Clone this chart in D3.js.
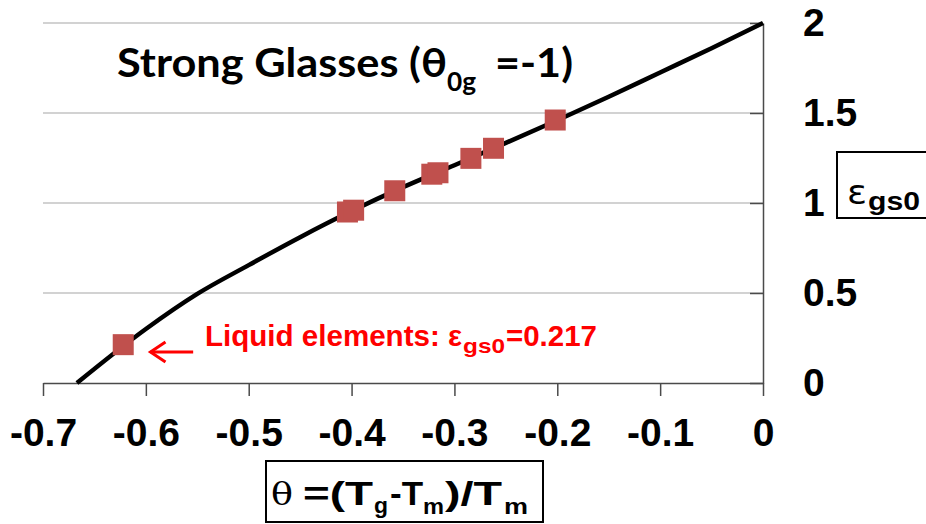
<!DOCTYPE html>
<html>
<head>
<meta charset="utf-8">
<script src="https://cdn.jsdelivr.net/npm/d3@7"></script>
<style>
  html, body { margin: 0; padding: 0; background: #fff; }
  svg { display: block; }
</style>
</head>
<body>
<div id="chart"></div>
<script>
// curve: theta vs eps_gs0
const curveTheta = [-0.667, -0.6, -0.55, -0.5, -0.45, -0.4, -0.35, -0.3, -0.25, -0.2, -0.15, -0.1, -0.05, 0];
const curveEps   = [0, 0.30, 0.495, 0.655, 0.81, 0.955, 1.088, 1.21, 1.334, 1.46, 1.59, 1.725, 1.86, 2.0];

// measured points (red squares)
const pointTheta = [-0.622, -0.404, -0.398, -0.358, -0.322, -0.316, -0.284, -0.262, -0.202];
const pointEps   = [0.213, 0.95, 0.96, 1.068, 1.16, 1.168, 1.248, 1.304, 1.461];

const xTicks = [-0.7, -0.6, -0.5, -0.4, -0.3, -0.2, -0.1, 0];
const yTicks = [0, 0.5, 1, 1.5, 2];

const W = 926, H = 524;

const svg = d3.select("#chart").append("svg")
    .attr("width", W)
    .attr("height", H);

const x = d3.scaleLinear().domain([-0.7, 0]).range([43, 763]);
const y = d3.scaleLinear().domain([0, 2]).range([383, 23]);

// gridlines
svg.append("g")
    .selectAll("line")
    .data(yTicks.filter(d => d > 0))
    .join("line")
    .attr("x1", x(-0.7))
    .attr("x2", x(0))
    .attr("y1", d => y(d))
    .attr("y2", d => y(d))
    .attr("stroke", "#a6a6a6")
    .attr("stroke-width", 1.2);

const axisColor = "#4a4a4a";
const tickFont = "bold 39px 'Liberation Sans', Arial, sans-serif";

// y axis on the right, ticks pointing inward
const yAxis = svg.append("g")
    .attr("transform", `translate(${x(0)},0)`)
    .call(d3.axisRight(y).tickValues(yTicks).tickSizeInner(-13).tickSizeOuter(0)
        .tickPadding(40).tickFormat(d => String(d)));

// x axis
const xAxis = svg.append("g")
    .attr("transform", `translate(0,${y(0)})`)
    .call(d3.axisBottom(x).tickValues(xTicks).tickSizeInner(13).tickSizeOuter(0)
        .tickPadding(22).tickFormat(d => String(d)));

[yAxis, xAxis].forEach(g => {
    g.select(".domain").attr("stroke", axisColor).attr("stroke-width", 1.5);
    g.selectAll(".tick line").attr("stroke", axisColor).attr("stroke-width", 1.5);
    g.selectAll(".tick text")
        .attr("fill", "#000")
        .style("font", tickFont);
});

// curve
const line = d3.line()
    .x(i => x(curveTheta[i]))
    .y(i => y(curveEps[i]))
    .curve(d3.curveMonotoneX);

svg.append("path")
    .datum(d3.range(curveTheta.length))
    .attr("fill", "none")
    .attr("stroke", "#000")
    .attr("stroke-width", 4.5)
    .attr("stroke-linejoin", "round")
    .attr("d", line);

// red squares
const sq = 21;
svg.append("g")
    .selectAll("rect")
    .data(d3.range(pointTheta.length))
    .join("rect")
    .attr("x", i => x(pointTheta[i]) - sq / 2)
    .attr("y", i => y(pointEps[i]) - sq / 2)
    .attr("width", sq)
    .attr("height", sq)
    .attr("fill", "#c0504d");

// helper for text pieces
function piece(txt, px, py, font, len, fill) {
    const t = svg.append("text")
        .attr("x", px)
        .attr("y", py)
        .attr("fill", fill || "#000")
        .style("font", font)
        .text(txt);
    if (len) t.attr("textLength", len).attr("lengthAdjust", "spacingAndGlyphs");
    return t;
}

// title
const titleFont = "bold 40px Lato, 'Open Sans', sans-serif";
piece("Strong Glasses (\u03b8", 117, 77, titleFont, 330);
piece("0g", 447, 91, "bold 26px Lato, 'Open Sans', sans-serif", 29);
piece("=-1)", 495, 77, titleFont, 78);

// annotation
const red = "#ff0000";
const annFont = "bold 30px 'Liberation Sans', Arial, sans-serif";
piece("Liquid elements: \u03b5", 205, 346, annFont, 257, red);
piece("gs0", 463, 353, "bold 21px 'Liberation Sans', Arial, sans-serif", 42, red);
piece("=0.217", 506, 346, annFont, 91, red);

const tipX = x(-0.5955), tailX = x(-0.554), arrY = y(0.172);
svg.append("line")
    .attr("x1", tipX).attr("x2", tailX)
    .attr("y1", arrY).attr("y2", arrY)
    .attr("stroke", red).attr("stroke-width", 3);
svg.append("path")
    .attr("d", `M${tipX + 15},${arrY - 10}L${tipX},${arrY}L${tipX + 15},${arrY + 10}`)
    .attr("fill", "none")
    .attr("stroke", red)
    .attr("stroke-width", 3);

// x axis label box
svg.append("rect")
    .attr("x", 266).attr("y", 461)
    .attr("width", 277).attr("height", 61)
    .attr("fill", "#fff").attr("stroke", "#000").attr("stroke-width", 2);
piece("\u03b8", 271, 505, "32px 'DejaVu Serif', serif", 22);
piece("=(T", 303, 505, "bold 34px 'Liberation Sans', Arial, sans-serif", 70);
piece("g", 374, 513, "bold 22px 'Liberation Sans', Arial, sans-serif", 14);
piece("-T", 390, 505, "bold 34px 'Liberation Sans', Arial, sans-serif", 33);
piece("m", 423, 514, "bold 22px 'Liberation Sans', Arial, sans-serif", 21);
piece(")/T", 445, 505, "bold 34px 'Liberation Sans', Arial, sans-serif", 57);
piece("m", 504, 514, "bold 22px 'Liberation Sans', Arial, sans-serif", 24);

// y axis label box
svg.append("rect")
    .attr("x", 837).attr("y", 152)
    .attr("width", 110).attr("height", 66)
    .attr("fill", "#fff").attr("stroke", "#000").attr("stroke-width", 2);
piece("\u03b5", 847, 204, "34px 'DejaVu Sans', sans-serif", 20);
piece("gs0", 868, 210, "bold 25px 'Liberation Sans', Arial, sans-serif", 52);
</script>
</body>
</html>
